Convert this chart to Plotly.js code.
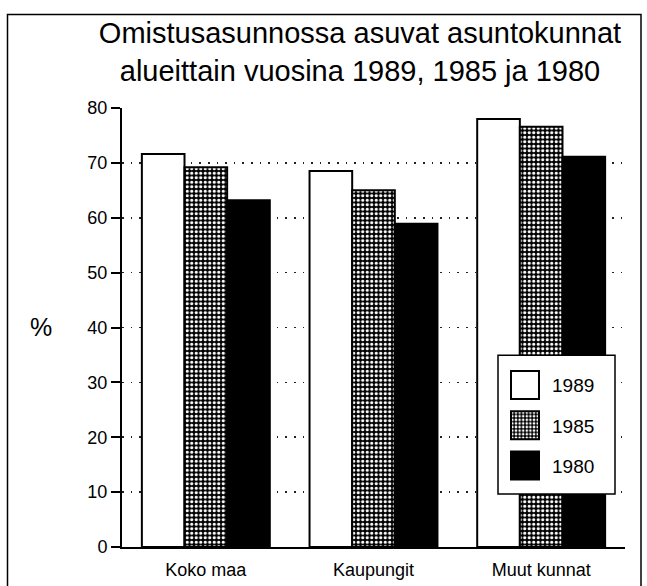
<!DOCTYPE html>
<html>
<head>
<meta charset="utf-8">
<script src="https://cdn.plot.ly/plotly-3.0.1.min.js"></script>
<style>
html,body{margin:0;padding:0;background:#fff;}
#chart{width:647px;height:586px;}
</style>
</head>
<body>
<div id="chart"></div>
<script>
// ---- data ----
const categories = ["Koko maa", "Kaupungit", "Muut kunnat"];
const years = ["1989", "1985", "1980"];
const values1989 = [71.6, 68.5, 78.0];
const values1985 = [69.2, 65.0, 76.6];
const values1980 = [63.2, 58.9, 71.1];
const yTicks = [0, 10, 20, 30, 40, 50, 60, 70, 80];

// ---- layout geometry (pixels) ----
const W = 647, H = 586;
const M = {l: 122, r: 22, t: 107.5, b: 39};
const PW = W - M.l - M.r, PH = H - M.t - M.b;
const px = x => (x - M.l) / PW;
const py = y => (H - M.b - y) / PH;

const FONT = '"Liberation Sans", Arial, Helvetica, sans-serif';

const barLine = {color: '#000', width: 2};
const traces = [
  {type: 'bar', name: years[0], x: categories, y: values1989, legendgroup: 'a',
   marker: {color: '#fff', line: barLine}},
  {type: 'bar', name: years[1], x: categories, y: values1985, legendgroup: 'b',
   marker: {color: '#000', line: barLine,
            pattern: {shape: '.', fgcolor: '#fff', bgcolor: '#000', size: 4.5, solidity: 0.4, fillmode: 'replace'}}},
  {type: 'bar', name: years[2], x: categories, y: values1980, legendgroup: 'c',
   marker: {color: '#000', line: barLine}}
];

const layout = {
  width: W, height: H,
  margin: M,
  paper_bgcolor: '#fff', plot_bgcolor: '#fff',
  font: {family: FONT, color: '#000'},
  barmode: 'group', bargap: 0.237, bargroupgap: 0,
  showlegend: true,
  title: {
    text: 'Omistusasunnossa asuvat asuntokunnat<br>alueittain vuosina 1989, 1985 ja 1980',
    font: {family: FONT, size: 29, color: '#000'},
    xref: 'container', x: 360 / W, xanchor: 'center',
    yref: 'container', y: 1 - 43 / H, yanchor: 'top'
  },
  xaxis: {
    type: 'category', range: [-0.5, 2.5],
    showline: true, linewidth: 2, linecolor: '#000',
    ticks: '', showgrid: false, zeroline: false,
    ticklabelstandoff: 5,
    tickfont: {family: FONT, size: 18, color: '#000'},
    fixedrange: true
  },
  yaxis: {
    range: [0, 80], tickvals: yTicks, ticktext: yTicks.map(String),
    showline: true, linewidth: 2, linecolor: '#000',
    ticks: 'outside', ticklen: 9, tickwidth: 2, tickcolor: '#000',
    showgrid: true, gridcolor: '#222', gridwidth: 1.6, griddash: '1.6px,7px',
    zeroline: false,
    tickfont: {family: FONT, size: 18, color: '#000'},
    fixedrange: true
  },
  legend: {
    x: px(498), y: py(366), xanchor: 'left', yanchor: 'top',
    bgcolor: 'rgba(0,0,0,0)', borderwidth: 0,
    font: {family: FONT, size: 19, color: '#000'},
    traceorder: 'grouped', tracegroupgap: 12.5, itemwidth: 44,
    itemclick: false, itemdoubleclick: false
  },
  annotations: [
    {text: '%', xref: 'paper', yref: 'paper', x: px(41), y: py(327),
     xanchor: 'center', yanchor: 'middle', showarrow: false,
     font: {family: FONT, size: 25, color: '#000'}}
  ],
  shapes: [
    // outer frame
    {type: 'rect', xref: 'paper', yref: 'paper',
     x0: px(7.5), x1: px(641), y0: py(14), y1: py(620),
     line: {color: '#000', width: 1.5}, fillcolor: 'rgba(0,0,0,0)', layer: 'above'},
    // legend box
    {type: 'rect', xref: 'paper', yref: 'paper',
     x0: px(498), x1: px(615), y0: py(355), y1: py(494),
     line: {color: '#000', width: 1.5}, fillcolor: '#fff', layer: 'above'}
  ]
};

Plotly.newPlot('chart', traces, layout, {displayModeBar: false, staticPlot: true}).then(gd => {
  gd.querySelectorAll('.legend .legendpoints path').forEach(p => {
    p.setAttribute('d', 'M14,14H-14V-14H14Z');
  });
});
</script>
</body>
</html>
